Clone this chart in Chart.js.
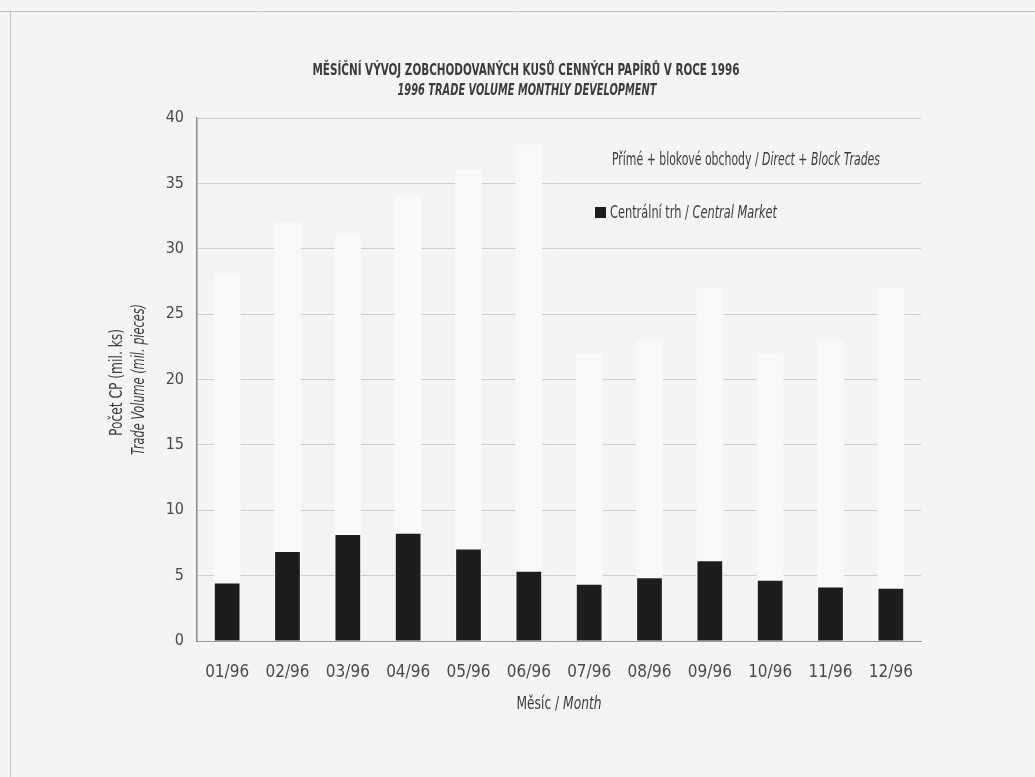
<!DOCTYPE html>
<html>
<head>
<meta charset="utf-8">
<script src="https://cdn.jsdelivr.net/npm/chart.js@4.4.0/dist/chart.umd.min.js"></script>
<style>
  html, body { margin: 0; padding: 0; background: #f4f4f4; }
  #wrap { width: 1035px; height: 777px; }
</style>
</head>
<body>
<div id="wrap"><canvas id="tradeChart"></canvas></div>
<script>
// data (mil. pieces)
const months = ['01/96', '02/96', '03/96', '04/96', '05/96', '06/96', '07/96', '08/96', '09/96', '10/96', '11/96', '12/96'];
const centralMarket = [4.4, 6.8, 8.1, 8.2, 7.0, 5.3, 4.3, 4.8, 6.1, 4.6, 4.1, 4.0];
const directBlockTrades = [28, 32, 31, 34, 36, 38, 22, 23, 27, 22, 23, 27];
const yTicks = [0, 5, 10, 15, 20, 25, 30, 35, 40];

const FONT = '"Liberation Sans Narrow", "DejaVu Sans Condensed", sans-serif';
const TEXT = '#3c3c3c';
const WHITE_BAR = '#f9f9f9';
const BLACK_BAR = '#1d1d1d';

function fontStr(size, italic, bold) {
    return (italic ? 'italic ' : '') + (bold ? 'bold ' : '') + size + 'px ' + FONT;
}

// draws a line made of normal / italic parts, squeezed to the given width
function drawParts(ctx, parts, x, y, size, align, width) {
    let total = 0;
    parts.forEach(p => {
        ctx.font = fontStr(size, p.i, p.b);
        p.w = ctx.measureText(p.t).width;
        total += p.w;
    });
    const sx = width ? width / total : 1;
    const shown = total * sx;
    let cx = align === 'center' ? x - shown / 2 : (align === 'right' ? x - shown : x);
    ctx.save();
    ctx.translate(cx, y);
    ctx.scale(sx, 1);
    ctx.textAlign = 'left';
    ctx.textBaseline = 'middle';
    let px = 0;
    parts.forEach(p => {
        ctx.font = fontStr(size, p.i, p.b);
        ctx.fillText(p.t, px, 0);
        px += p.w;
    });
    ctx.restore();
}

const textPlugin = {
    id: 'texts',
    beforeDraw(chart) {
        const ctx = chart.ctx;
        ctx.save();
        ctx.strokeStyle = '#c4c4c4';
        ctx.lineWidth = 1;
        ctx.beginPath();
        ctx.moveTo(0, 11.5);
        ctx.lineTo(1035, 11.5);
        ctx.moveTo(10.5, 11);
        ctx.lineTo(10.5, 777);
        ctx.stroke();
        ctx.restore();
    },
    afterDraw(chart) {
        const ctx = chart.ctx;
        const area = chart.chartArea;
        const midY = (area.top + area.bottom) / 2;
        const midX = (area.left + area.right) / 2;
        ctx.save();
        ctx.fillStyle = TEXT;

        // title
        drawParts(ctx, [{ t: 'MĚSÍČNÍ VÝVOJ ZOBCHODOVANÝCH KUSŮ CENNÝCH PAPÍRŮ V ROCE 1996', b: true }], 526, 71, 16, 'center', 427);
        drawParts(ctx, [{ t: '1996 TRADE VOLUME MONTHLY DEVELOPMENT', i: true, b: true }], 527, 91, 16, 'center', 259);

        // legend
        drawParts(ctx, [{ t: 'Přímé + blokové obchody / ' }, { t: 'Direct + Block Trades', i: true }], 612, 160, 18, 'left', 268);
        ctx.fillStyle = BLACK_BAR;
        ctx.fillRect(595, 207, 11, 11);
        ctx.fillStyle = TEXT;
        drawParts(ctx, [{ t: 'Centrální trh / ' }, { t: 'Central Market', i: true }], 610, 213, 18, 'left', 167);

        // x axis title
        drawParts(ctx, [{ t: 'Měsíc / ' }, { t: 'Month', i: true }], midX, 705, 17, 'center', 85);

        // y axis title, two rotated lines
        ctx.translate(118, midY);
        ctx.rotate(-Math.PI / 2);
        drawParts(ctx, [{ t: 'Počet CP (mil. ks)' }], -3, 0, 17, 'center', 107);
        drawParts(ctx, [{ t: 'Trade Volume (mil. pieces)', i: true }], 0, 22, 17, 'center', 151);
        ctx.restore();
    }
};

const ctx = document.getElementById('tradeChart').getContext('2d');
const tradeChart = new Chart(ctx, {
    type: 'bar',
    data: {
        labels: months,
        datasets: [{
            label: 'Centrální trh / Central Market',
            data: centralMarket,
            backgroundColor: BLACK_BAR,
            borderWidth: 0,
            grouped: false,
            categoryPercentage: 1,
            barPercentage: 0.41,
            order: 0
        }, {
            label: 'Přímé + blokové obchody / Direct + Block Trades',
            data: directBlockTrades,
            backgroundColor: WHITE_BAR,
            borderWidth: 0,
            grouped: false,
            categoryPercentage: 1,
            barPercentage: 0.44,
            order: 1
        }]
    },
    options: {
        responsive: true,
        maintainAspectRatio: false,
        animation: false,
        layout: {
            padding: { left: 149, right: 114, top: 118, bottom: 91 }
        },
        plugins: {
            legend: { display: false },
            title: { display: false },
            tooltip: { enabled: false }
        },
        scales: {
            x: {
                afterFit: scale => { scale.height = 45; },
                grid: { display: false },
                border: { color: '#9a9a9a', width: 1 },
                ticks: {
                    color: '#4a4a4a',
                    font: { family: FONT, size: 17 },
                    padding: 13,
                    maxRotation: 0
                }
            },
            y: {
                min: 0,
                max: 40,
                afterFit: scale => { scale.width = 48; },
                afterBuildTicks: scale => { scale.ticks = yTicks.map(v => ({ value: v })); },
                grid: { color: '#cfcfcf', lineWidth: 1, drawTicks: false },
                border: { color: '#8a8a8a', width: 1.5 },
                ticks: {
                    color: '#4a4a4a',
                    font: { family: FONT, size: 16 },
                    padding: 13
                }
            }
        }
    },
    plugins: [textPlugin]
});
</script>
</body>
</html>
